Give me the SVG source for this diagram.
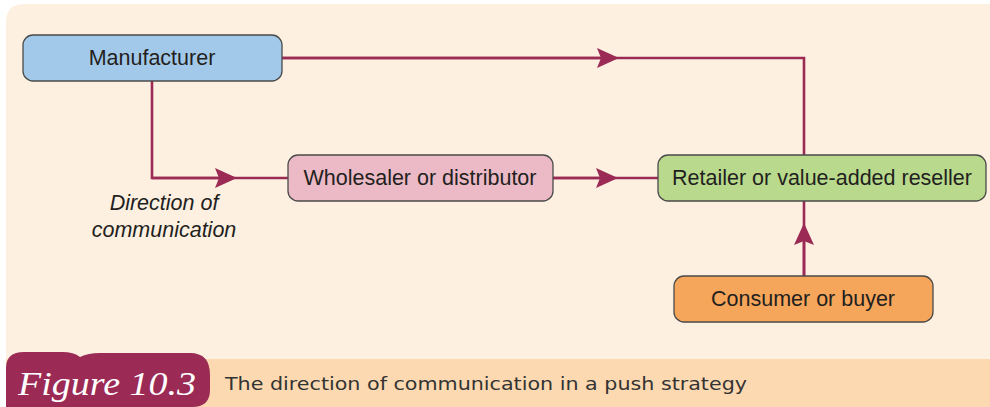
<svg xmlns="http://www.w3.org/2000/svg" width="990" height="407" viewBox="0 0 990 407">
<defs>
<style>
.node rect{stroke:#4a4a4a;stroke-width:1.3}
.lbl{font-family:"Liberation Sans",Arial,sans-serif;font-size:21.5px;fill:#231f20;text-anchor:middle;dominant-baseline:central}
.conn{fill:none;stroke:#9b2a55;stroke-width:2.6}
.note{font-family:"Liberation Sans",Arial,sans-serif;font-size:21.5px;font-style:italic;fill:#231f20;text-anchor:middle}
</style>
<marker id="ah" viewBox="0 0 22 20" refX="11" refY="10" markerWidth="22" markerHeight="20" markerUnits="userSpaceOnUse" orient="auto">
<path d="M0,0 L22,10 L0,20 L4,10 Z" fill="#9b2a55"/>
</marker>
</defs>
<rect x="0" y="0" width="990" height="407" fill="#ffffff"/>
<path d="M6,359 L6,22 Q6,4 24,4 L990,4 L990,359 Z" fill="#fdf0e1"/>
<rect x="6" y="359" width="984" height="48" fill="#fcd9b0"/>
<path d="M6,407 L6,368 Q6,352 24,352 L62,352 Q74,352 80,357 Q88,353 100,353 L190,353 Q210,353 210,375 L210,390 Q210,407 192,407 Z" fill="#9b2a55"/>
<text x="18" y="395" font-family="Liberation Serif,serif" font-style="italic" font-size="34" fill="#ffffff" textLength="178" lengthAdjust="spacingAndGlyphs">Figure 10.3</text>
<text x="225" y="390" font-family="'DejaVu Sans',sans-serif" font-size="18" fill="#333333" textLength="522" lengthAdjust="spacingAndGlyphs">The direction of communication in a push strategy</text>

<g id="connectors">
<path class="conn" d="M282,58 L804,58 L804,155"/>
<line class="conn" x1="282" y1="58" x2="608" y2="58" marker-end="url(#ah)"/>
<path class="conn" d="M152,81 L152,178 L288,178"/>
<line class="conn" x1="152" y1="178" x2="226" y2="178" marker-end="url(#ah)"/>
<line class="conn" x1="553" y1="178" x2="658" y2="178"/>
<line class="conn" x1="553" y1="178" x2="607" y2="178" marker-end="url(#ah)"/>
<line class="conn" x1="804" y1="276" x2="804" y2="201"/>
<line class="conn" x1="804" y1="276" x2="804" y2="234" marker-end="url(#ah)"/>
</g>

<g id="manufacturer" class="node">
<rect x="23" y="35" width="259" height="46" rx="10" fill="#a3c9ea"/>
<text class="lbl" x="152" y="58">Manufacturer</text>
</g>
<g id="wholesaler" class="node">
<rect x="288" y="155" width="265" height="46" rx="10" fill="#ecbac6"/>
<text class="lbl" x="420" y="178">Wholesaler or distributor</text>
</g>
<g id="retailer" class="node">
<rect x="658" y="155" width="328" height="46" rx="10" fill="#b9da8c"/>
<text class="lbl" x="822" y="178">Retailer or value-added reseller</text>
</g>
<g id="consumer" class="node">
<rect x="674" y="276" width="259" height="46" rx="10" fill="#f6a65a"/>
<text class="lbl" x="803" y="299">Consumer or buyer</text>
</g>
<g id="note">
<text class="note" x="164" y="210">Direction of</text>
<text class="note" x="164" y="237">communication</text>
</g>
</svg>
